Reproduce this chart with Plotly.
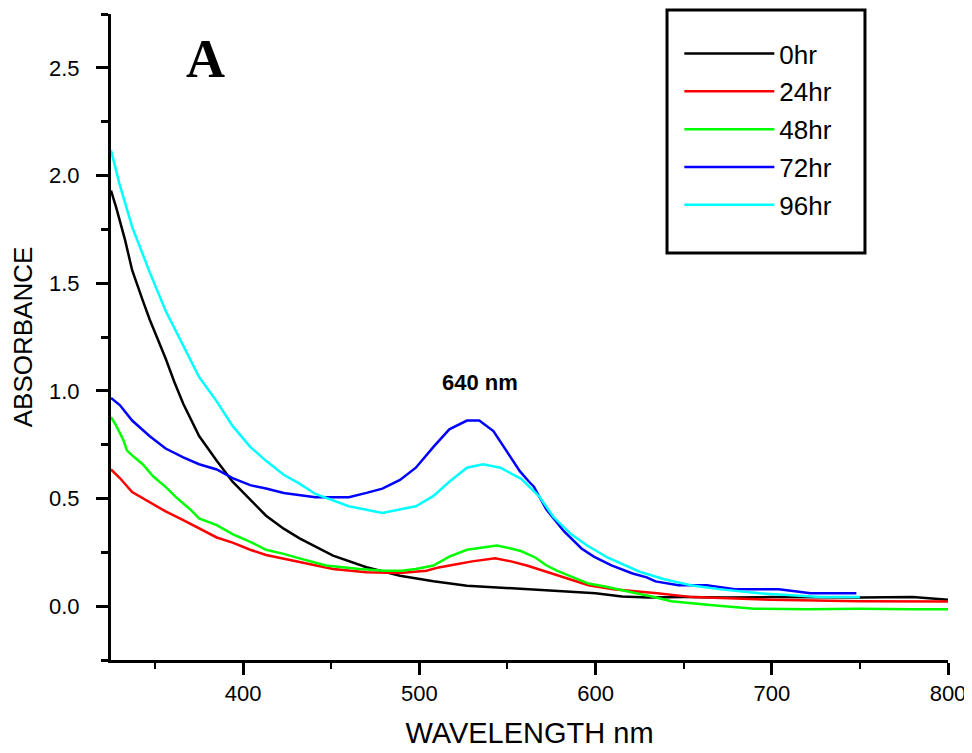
import plotly.graph_objects as go

# ---- data ----
series_names = ["0hr", "24hr", "48hr", "72hr", "96hr"]
series_colors = ["#000000", "#FF0000", "#00FF00", "#0000FF", "#00FFFF"]

wl_0hr = [325, 328, 333, 337, 343, 347, 352, 356, 361, 366, 375, 385, 394, 404, 413, 423, 432, 451,
          470, 489, 508, 527, 545, 565, 580, 600, 615, 630, 650, 675, 700, 725, 750, 780, 800]
abs_0hr = [1.93, 1.85, 1.70, 1.56, 1.42, 1.33, 1.23, 1.15, 1.04, 0.94, 0.79, 0.675, 0.578, 0.497,
           0.42, 0.36, 0.315, 0.235, 0.181, 0.141, 0.116, 0.095, 0.087, 0.077, 0.068, 0.06, 0.045,
           0.04, 0.042, 0.04, 0.042, 0.04, 0.04, 0.042, 0.03]

wl_24hr = [325, 330, 337, 347, 356, 366, 375, 385, 394, 404, 413, 432, 451, 470, 489, 504, 511, 521,
           530, 543, 552, 561, 568, 575, 582, 590, 596, 610, 635, 655, 680, 700, 750, 800]
abs_24hr = [0.635, 0.595, 0.53, 0.481, 0.44, 0.40, 0.36, 0.319, 0.295, 0.262, 0.238, 0.205, 0.173,
            0.157, 0.154, 0.165, 0.18, 0.195, 0.208, 0.222, 0.208, 0.189, 0.171, 0.152, 0.134,
            0.115, 0.097, 0.078, 0.06, 0.042, 0.035, 0.03, 0.023, 0.022]

wl_48hr = [325, 328, 332, 334, 337, 343, 349, 356, 362, 370, 375, 385, 394, 404, 413, 423, 432, 447,
           466, 480, 490, 498, 508, 517, 527, 533, 544, 552, 558, 566, 572, 578, 584, 590, 596, 606,
           614, 623, 632, 643, 665, 690, 720, 750, 780, 800]
abs_48hr = [0.878, 0.837, 0.772, 0.724, 0.70, 0.659, 0.602, 0.554, 0.505, 0.449, 0.408, 0.376,
            0.335, 0.299, 0.262, 0.243, 0.222, 0.189, 0.173, 0.165, 0.165, 0.173, 0.189, 0.230,
            0.262, 0.270, 0.282, 0.268, 0.255, 0.225, 0.190, 0.165, 0.145, 0.125, 0.105, 0.09,
            0.075, 0.06, 0.045, 0.023, 0.005, -0.012, -0.014, -0.012, -0.014, -0.014]

wl_72hr = [325, 330, 337, 347, 356, 366, 375, 385, 394, 404, 413, 423, 441, 460, 470, 479, 489, 498,
           508, 517, 527, 534, 542, 549, 557, 562, 565, 572, 582, 592, 599, 609, 621, 629, 634, 647,
           663, 680, 704, 722, 748]
abs_72hr = [0.967, 0.934, 0.862, 0.789, 0.732, 0.691, 0.659, 0.635, 0.595, 0.562, 0.546, 0.526,
            0.506, 0.506, 0.526, 0.546, 0.586, 0.643, 0.740, 0.821, 0.862, 0.862, 0.813, 0.724,
            0.627, 0.58, 0.555, 0.45, 0.348, 0.268, 0.23, 0.189, 0.152, 0.134, 0.115, 0.097,
            0.097, 0.078, 0.078, 0.06, 0.06]

wl_96hr = [325, 330, 337, 347, 356, 366, 375, 385, 394, 404, 413, 423, 432, 441, 460, 479, 498, 508,
           517, 527, 536, 546, 555, 558, 568, 576, 586, 595, 607, 625, 639, 654, 671, 693, 728, 750]
abs_96hr = [2.117, 1.955, 1.761, 1.55, 1.372, 1.21, 1.064, 0.951, 0.837, 0.74, 0.675, 0.61, 0.569,
            0.521, 0.464, 0.433, 0.464, 0.512, 0.578, 0.643, 0.659, 0.643, 0.602, 0.59, 0.51,
            0.415, 0.335, 0.283, 0.225, 0.16, 0.125, 0.097, 0.078, 0.06, 0.042, 0.042]

x_ticks = [400, 500, 600, 700, 800]
y_ticks = [0.0, 0.5, 1.0, 1.5, 2.0, 2.5]
peak_label = "640 nm"
panel_label = "A"

wls = [wl_0hr, wl_24hr, wl_48hr, wl_72hr, wl_96hr]
absorb = [abs_0hr, abs_24hr, abs_48hr, abs_72hr, abs_96hr]

fig = go.Figure()
for i, (name, col) in enumerate(zip(series_names, series_colors)):
    fig.add_trace(go.Scatter(
        x=wls[i], y=absorb[i], mode="lines", name=name,
        line=dict(color=col, width=2.5),
        legendgroup=name,
    ))

FONT = "Arial, Liberation Sans, sans-serif"
axis_font = dict(family=FONT, size=22, color="#000000")

fig.update_layout(
    width=972, height=753,
    margin=dict(l=103, r=32, t=6, b=101),
    paper_bgcolor="white", plot_bgcolor="white",
    showlegend=True,
    legend=dict(
        x=0.679, y=0.975, xanchor="left", yanchor="top",
        borderwidth=0, bgcolor="rgba(0,0,0,0)",
        font=dict(family=FONT, size=26, color="#000000"),
        itemwidth=90, tracegroupgap=1, traceorder="grouped",
    ),
    shapes=[
        dict(type="rect", xref="paper", yref="paper", x0=0.6643, x1=0.9008, y0=0.630, y1=1.0062,
             line=dict(color="#000000", width=3), fillcolor="rgba(0,0,0,0)", layer="above"),
    ],
    xaxis=dict(
        range=[325, 800], tickvals=x_ticks, ticktext=[str(v) for v in x_ticks],
        showline=True, linecolor="#000000", linewidth=3, automargin=False,
        ticks="outside", ticklen=12, tickwidth=3, tickcolor="#000000",
        minor=dict(ticks="outside", dtick=50, tick0=350, ticklen=6, tickwidth=2, tickcolor="#000000"),
        showgrid=False, zeroline=False, tickfont=axis_font,
        title=dict(text="WAVELENGTH nm", font=dict(family=FONT, size=29, color="#000000"),
                   standoff=18),
    ),
    yaxis=dict(
        range=[-0.25, 2.75], tickvals=y_ticks, ticktext=["%.1f" % v for v in y_ticks],
        showline=True, linecolor="#000000", linewidth=3, automargin=False,
        ticks="outside", ticklen=12, tickwidth=3, tickcolor="#000000",
        minor=dict(ticks="outside", dtick=0.25, tick0=0.25, ticklen=7, tickwidth=3, tickcolor="#000000"),
        showgrid=False, zeroline=False, tickfont=axis_font, ticklabelstandoff=12,
        title=dict(text="ABSORBANCE", font=dict(family=FONT, size=26, color="#000000"),
                   standoff=13),
    ),
    annotations=[
        dict(x=378.7, y=2.54, xref="x", yref="y", text="<b>%s</b>" % panel_label, showarrow=False,
             font=dict(family="Times New Roman, Liberation Serif, serif", size=54, color="#000000")),
        dict(x=534.2, y=1.04, xref="x", yref="y", text="<b>%s</b>" % peak_label, showarrow=False,
             font=dict(family=FONT, size=22, color="#000000")),
    ],
)

fig.write_html("out.html")
